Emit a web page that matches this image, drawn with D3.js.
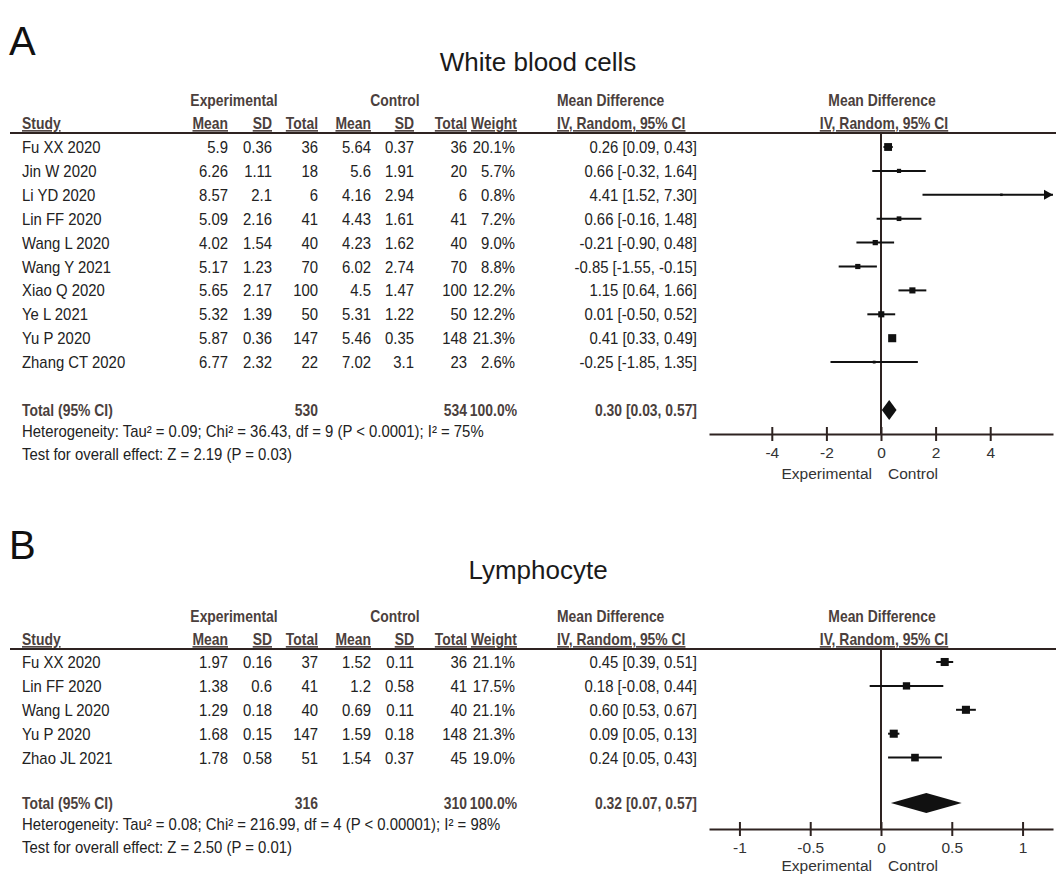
<!DOCTYPE html>
<html>
<head>
<meta charset="utf-8">
<script src="https://cdn.jsdelivr.net/npm/d3@7"></script>
<style>
  body { margin: 0; background: #fff; }
  svg { display: block; font-family: "Liberation Sans", Arial, sans-serif; }
</style>
</head>
<body>
<div id="chart"></div>
<script>
// Panel A: white blood cells
const studiesA = ['Fu XX 2020', 'Jin W 2020', 'Li YD 2020', 'Lin FF 2020', 'Wang L 2020',
  'Wang Y 2021', 'Xiao Q 2020', 'Ye L 2021', 'Yu P 2020', 'Zhang CT 2020'];
const expMeanA = [5.9, 6.26, 8.57, 5.09, 4.02, 5.17, 5.65, 5.32, 5.87, 6.77];
const expSdA = [0.36, 1.11, 2.1, 2.16, 1.54, 1.23, 2.17, 1.39, 0.36, 2.32];
const expNA = [36, 18, 6, 41, 40, 70, 100, 50, 147, 22];
const ctlMeanA = [5.64, 5.6, 4.16, 4.43, 4.23, 6.02, 4.5, 5.31, 5.46, 7.02];
const ctlSdA = [0.37, 1.91, 2.94, 1.61, 1.62, 2.74, 1.47, 1.22, 0.35, 3.1];
const ctlNA = [36, 20, 6, 41, 40, 70, 100, 50, 148, 23];
const weightA = [20.1, 5.7, 0.8, 7.2, 9.0, 8.8, 12.2, 12.2, 21.3, 2.6];
const mdA = [0.26, 0.66, 4.41, 0.66, -0.21, -0.85, 1.15, 0.01, 0.41, -0.25];
const loA = [0.09, -0.32, 1.52, -0.16, -0.90, -1.55, 0.64, -0.50, 0.33, -1.85];
const hiA = [0.43, 1.64, 7.30, 1.48, 0.48, -0.15, 1.66, 0.52, 0.49, 1.35];
const totalA = { expN: 530, ctlN: 534, md: 0.30, lo: 0.03, hi: 0.57 };
const hetA = 'Heterogeneity: Tau² = 0.09; Chi² = 36.43, df = 9 (P < 0.0001); I² = 75%';
const testA = 'Test for overall effect: Z = 2.19 (P = 0.03)';
const ticksA = [-4, -2, 0, 2, 4];

// Panel B: lymphocyte
const studiesB = ['Fu XX 2020', 'Lin FF 2020', 'Wang L 2020', 'Yu P 2020', 'Zhao JL 2021'];
const expMeanB = [1.97, 1.38, 1.29, 1.68, 1.78];
const expSdB = [0.16, 0.6, 0.18, 0.15, 0.58];
const expNB = [37, 41, 40, 147, 51];
const ctlMeanB = [1.52, 1.2, 0.69, 1.59, 1.54];
const ctlSdB = [0.11, 0.58, 0.11, 0.18, 0.37];
const ctlNB = [36, 41, 40, 148, 45];
const weightB = [21.1, 17.5, 21.1, 21.3, 19.0];
const mdB = [0.45, 0.18, 0.60, 0.09, 0.24];
const loB = [0.39, -0.08, 0.53, 0.05, 0.05];
const hiB = [0.51, 0.44, 0.67, 0.13, 0.43];
const totalB = { expN: 316, ctlN: 310, md: 0.32, lo: 0.07, hi: 0.57 };
const hetB = 'Heterogeneity: Tau² = 0.08; Chi² = 216.99, df = 4 (P < 0.00001); I² = 98%';
const testB = 'Test for overall effect: Z = 2.50 (P = 0.01)';
const ticksB = [-1, -0.5, 0, 0.5, 1];

const W = 1056;
const H = 877;
const lineCol = '#2e2321';
const headCol = '#4b3f3d';
const textCol = '#222';

// right edges of the numeric columns
const cols = {
  study: 22, expMean: 228, expSd: 272, expN: 318, ctlMean: 371,
  ctlSd: 414, ctlN: 467, weight: 515, ci: 697, ciLeft: 557,
};

const svg = d3.select('#chart').append('svg')
  .attr('width', W)
  .attr('height', H);

// text is a little taller and narrower than plain Arial in the original
function txt(g, x, y, s, o = {}) {
  const sx = o.sx || (o.bold ? 0.88 : 0.92);
  return g.append('text')
    .attr('transform', `translate(${x},${y}) scale(${sx},1)`)
    .attr('text-anchor', o.anchor || 'start')
    .attr('font-size', o.size || 16.2)
    .attr('font-weight', o.bold ? 'bold' : 'normal')
    .attr('text-decoration', o.underline ? 'underline' : null)
    .attr('fill', o.fill || textCol)
    .text(s);
}

const ciText = (m, l, h) => `${m.toFixed(2)} [${l.toFixed(2)}, ${h.toFixed(2)}]`;

function drawPanel(p) {
  const g = svg.append('g');
  const n = p.studies.length;

  // panel letter and title
  txt(g, 9, p.letterY, p.letter, { size: 40, fill: '#111', sx: 1 });
  txt(g, 538, p.titleY, p.title, { size: 26, anchor: 'middle', fill: '#1a1a1a', sx: 1 });

  // group headers
  const hd = { bold: true, fill: headCol, size: 15.8 };
  txt(g, 234, p.groupY, 'Experimental', { ...hd, anchor: 'middle' });
  txt(g, 395, p.groupY, 'Control', { ...hd, anchor: 'middle' });
  txt(g, cols.ciLeft, p.groupY, 'Mean Difference', hd);
  txt(g, 882, p.groupY, 'Mean Difference', { ...hd, anchor: 'middle' });

  const ul = { ...hd, underline: true };
  txt(g, cols.study, p.colY, 'Study', ul);
  txt(g, cols.expMean, p.colY, 'Mean', { ...ul, anchor: 'end' });
  txt(g, cols.expSd, p.colY, 'SD', { ...ul, anchor: 'end' });
  txt(g, cols.expN, p.colY, 'Total', { ...ul, anchor: 'end' });
  txt(g, cols.ctlMean, p.colY, 'Mean', { ...ul, anchor: 'end' });
  txt(g, cols.ctlSd, p.colY, 'SD', { ...ul, anchor: 'end' });
  txt(g, cols.ctlN, p.colY, 'Total', { ...ul, anchor: 'end' });
  txt(g, cols.weight + 2, p.colY, 'Weight', { ...ul, anchor: 'end' });
  txt(g, cols.ciLeft, p.colY, 'IV, Random, 95% CI', ul);
  txt(g, 884, p.colY, 'IV, Random, 95% CI', { ...ul, anchor: 'middle' });

  g.append('line')
    .attr('x1', 10).attr('x2', W)
    .attr('y1', p.lineY).attr('y2', p.lineY)
    .attr('stroke', lineCol).attr('stroke-width', 2);

  // rows
  const y = d3.scaleLinear().domain([0, n - 1]).range([p.row0, p.row0 + p.pitch * (n - 1)]);
  const x = d3.scaleLinear().domain(p.domain).range([709, 1053]);
  const base = 6;

  p.studies.forEach((s, i) => {
    const yy = y(i) + base;
    txt(g, cols.study, yy, s);
    txt(g, cols.expMean, yy, p.expMean[i], { anchor: 'end' });
    txt(g, cols.expSd, yy, p.expSd[i], { anchor: 'end' });
    txt(g, cols.expN, yy, p.expN[i], { anchor: 'end' });
    txt(g, cols.ctlMean, yy, p.ctlMean[i], { anchor: 'end' });
    txt(g, cols.ctlSd, yy, p.ctlSd[i], { anchor: 'end' });
    txt(g, cols.ctlN, yy, p.ctlN[i], { anchor: 'end' });
    txt(g, cols.weight, yy, `${p.weight[i].toFixed(1)}%`, { anchor: 'end' });
    txt(g, cols.ci, yy, ciText(p.md[i], p.lo[i], p.hi[i]), { anchor: 'end' });
  });

  // totals
  const ty = p.totalY + base;
  const tb = { bold: true, fill: headCol, size: 15.8 };
  txt(g, cols.study, ty, 'Total (95% CI)', tb);
  txt(g, cols.expN, ty, p.total.expN, { ...tb, anchor: 'end' });
  txt(g, cols.ctlN, ty, p.total.ctlN, { ...tb, anchor: 'end' });
  txt(g, cols.weight + 2, ty, '100.0%', { ...tb, anchor: 'end' });
  txt(g, cols.ci, ty, ciText(p.total.md, p.total.lo, p.total.hi), { ...tb, anchor: 'end' });
  txt(g, cols.study, p.hetY, p.het);
  txt(g, cols.study, p.testY, p.test);

  // forest plot: zero line
  g.append('line')
    .attr('x1', x(0)).attr('x2', x(0))
    .attr('y1', p.lineY).attr('y2', p.axisY)
    .attr('stroke', lineCol).attr('stroke-width', 2);

  const [dMin, dMax] = p.domain;
  p.studies.forEach((s, i) => {
    const lo = Math.max(p.lo[i], dMin);
    const hi = Math.min(p.hi[i], dMax);
    g.append('line')
      .attr('x1', x(lo)).attr('x2', x(hi))
      .attr('y1', y(i)).attr('y2', y(i))
      .attr('stroke', '#111').attr('stroke-width', 2);
    if (p.hi[i] > dMax) {
      const ax = x(dMax);
      g.append('path')
        .attr('d', `M${ax},${y(i)} L${ax - 9},${y(i) - 5} L${ax - 9},${y(i) + 5} Z`)
        .attr('fill', '#111');
    }
    const side = Math.max(2.5, 1.75 * Math.sqrt(p.weight[i]));
    g.append('rect')
      .attr('x', x(p.md[i]) - side / 2)
      .attr('y', y(i) - side / 2)
      .attr('width', side)
      .attr('height', side)
      .attr('fill', '#111');
  });

  // pooled diamond
  const dy = p.totalY;
  g.append('path')
    .attr('d', `M${x(p.total.lo)},${dy} L${x(p.total.md)},${dy - 10} L${x(p.total.hi)},${dy} L${x(p.total.md)},${dy + 10} Z`)
    .attr('fill', '#111');

  // axis
  const axis = d3.axisBottom(x)
    .tickValues(p.ticks)
    .tickFormat((d) => String(d))
    .tickSizeOuter(0)
    .tickSizeInner(7)
    .tickPadding(4);
  const ag = g.append('g')
    .attr('transform', `translate(0,${p.axisY})`)
    .call(axis);
  ag.select('.domain').attr('stroke', lineCol).attr('stroke-width', 2);
  ag.selectAll('.tick line').attr('y1', -7).attr('y2', 7)
    .attr('stroke', lineCol).attr('stroke-width', 2);
  ag.selectAll('.tick text')
    .attr('font-size', 15.5)
    .attr('font-family', '"Liberation Sans", Arial, sans-serif')
    .attr('fill', '#333')
    .attr('dy', '0.85em');

  txt(g, x(0) - 9, p.axisY + p.labOff, 'Experimental', { anchor: 'end', fill: '#333', size: 15.5, sx: 1 });
  txt(g, x(0) + 7, p.axisY + p.labOff, 'Control', { fill: '#333', size: 15.5, sx: 1 });
}

drawPanel({
  letter: 'A', title: 'White blood cells',
  letterY: 55, titleY: 71, groupY: 106, colY: 129, lineY: 133,
  row0: 147, pitch: 23.9, totalY: 410, hetY: 437, testY: 460, axisY: 434, labOff: 45,
  studies: studiesA, expMean: expMeanA, expSd: expSdA, expN: expNA,
  ctlMean: ctlMeanA, ctlSd: ctlSdA, ctlN: ctlNA, weight: weightA,
  md: mdA, lo: loA, hi: hiA, total: totalA, het: hetA, test: testA,
  domain: [-6.3, 6.3], ticks: ticksA,
});

drawPanel({
  letter: 'B', title: 'Lymphocyte',
  letterY: 559, titleY: 579, groupY: 622, colY: 645, lineY: 649,
  row0: 662, pitch: 23.9, totalY: 803, hetY: 830, testY: 853, axisY: 829, labOff: 42,
  studies: studiesB, expMean: expMeanB, expSd: expSdB, expN: expNB,
  ctlMean: ctlMeanB, ctlSd: ctlSdB, ctlN: ctlNB, weight: weightB,
  md: mdB, lo: loB, hi: hiB, total: totalB, het: hetB, test: testB,
  domain: [-1.215, 1.215], ticks: ticksB,
});
</script>
</body>
</html>
